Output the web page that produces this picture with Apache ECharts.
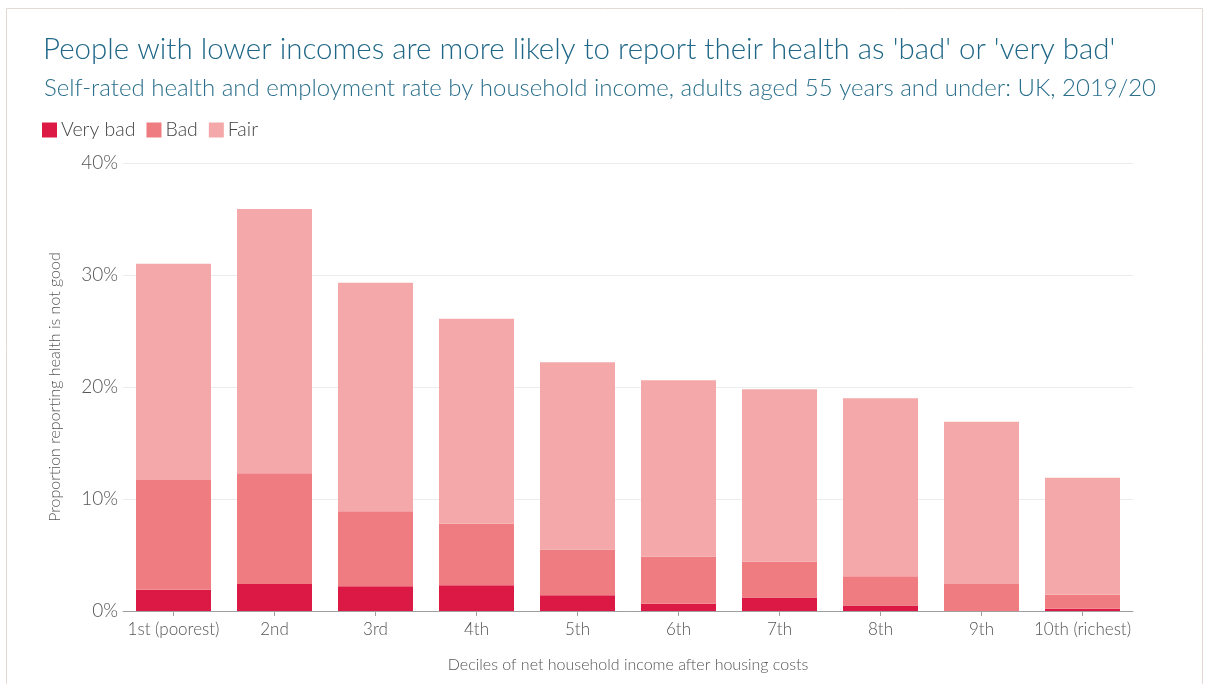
<!DOCTYPE html>
<html>
<head>
<meta charset="utf-8">
<script src="https://cdn.jsdelivr.net/npm/echarts@6/dist/echarts.min.js"></script>
<style>
html,body{margin:0;padding:0;background:#fff;}
#chart{width:1205px;height:684px;}
</style>
</head>
<body>
<div id="chart"></div>
<script>
const categories = ['1st (poorest)','2nd','3rd','4th','5th','6th','7th','8th','9th','10th (richest)'];
const veryBad = [1.9, 2.4, 2.2, 2.3, 1.4, 0.65, 1.2, 0.5, 0, 0.2];
const bad     = [9.8, 9.9, 6.7, 5.5, 4.1, 4.2, 3.2, 2.6, 2.4, 1.25];
const fair    = [19.3, 23.6, 20.4, 18.3, 16.7, 15.75, 15.4, 15.9, 14.5, 10.45];
const seriesNames = ['Very bad','Bad','Fair'];
const yTicks = [0, 10, 20, 30, 40];

const FONT = 'Lato';
const chart = echarts.init(document.getElementById('chart'), null, {renderer:'canvas'});
const colors = ['#dc1944', '#ef7c80', '#f4a8aa'];
const data = [veryBad, bad, fair];

chart.setOption({
  animation: false,
  backgroundColor: '#ffffff',
  textStyle: {fontFamily: FONT},
  graphic: [{
    type: 'rect', silent: true,
    shape: {x: 6.5, y: 8.5, width: 1196, height: 700},
    style: {fill: 'none', stroke: '#e3d9d2', lineWidth: 1}
  }],
  title: [{
    text: "People with lower incomes are more likely to report their health as 'bad' or 'very bad'",
    left: 38, top: 29,
    textStyle: {fontFamily: FONT, fontWeight: 300, fontSize: 29.5, color: '#1f6787'}
  }, {
    text: 'Self-rated health and employment rate by household income, adults aged 55 years and under: UK, 2019/20',
    left: 39, top: 71,
    textStyle: {fontFamily: FONT, fontWeight: 300, fontSize: 24, color: '#2a6f8c'}
  }],
  legend: {
    data: seriesNames,
    left: 37, top: 115,
    icon: 'rect', itemWidth: 15, itemHeight: 15, itemGap: 11,
    textStyle: {fontFamily: FONT, fontSize: 19.5, fontWeight: 300, color: '#444', padding: [0,0,0,-1]}
  },
  grid: {left: 123, right: 72, top: 163, bottom: 73, containLabel: false},
  xAxis: {
    type: 'category',
    data: categories,
    name: 'Deciles of net household income after housing costs',
    nameLocation: 'middle', nameGap: 46,
    nameTextStyle: {fontFamily: FONT, fontSize: 16, fontWeight: 300, color: '#555'},
    axisLine: {lineStyle: {color: '#a0a0a0', width: 1}},
    axisTick: {show: true, alignWithLabel: true, length: 5, lineStyle: {color: '#a0a0a0'}},
    axisLabel: {fontFamily: FONT, fontSize: 17, fontWeight: 300, color: '#555', margin: 10, interval: 0}
  },
  yAxis: {
    type: 'value',
    min: yTicks[0], max: yTicks[yTicks.length-1], interval: 10,
    name: 'Proportion reporting health is not good',
    nameLocation: 'middle', nameGap: 60, nameRotate: 90,
    nameTextStyle: {fontFamily: FONT, fontSize: 16, fontWeight: 300, color: '#555'},
    axisLine: {show: false}, axisTick: {show: false},
    axisLabel: {fontFamily: FONT, fontSize: 19, fontWeight: 300, color: '#555', margin: 5, formatter: v => v + '%'},
    splitLine: {lineStyle: {color: '#ececec', width: 1}}
  },
  series: seriesNames.map((n, i) => ({
    name: n, type: 'bar', stack: 'total',
    barWidth: 75,
    itemStyle: {color: colors[i]},
    data: data[i]
  }))
});
</script>
</body>
</html>
